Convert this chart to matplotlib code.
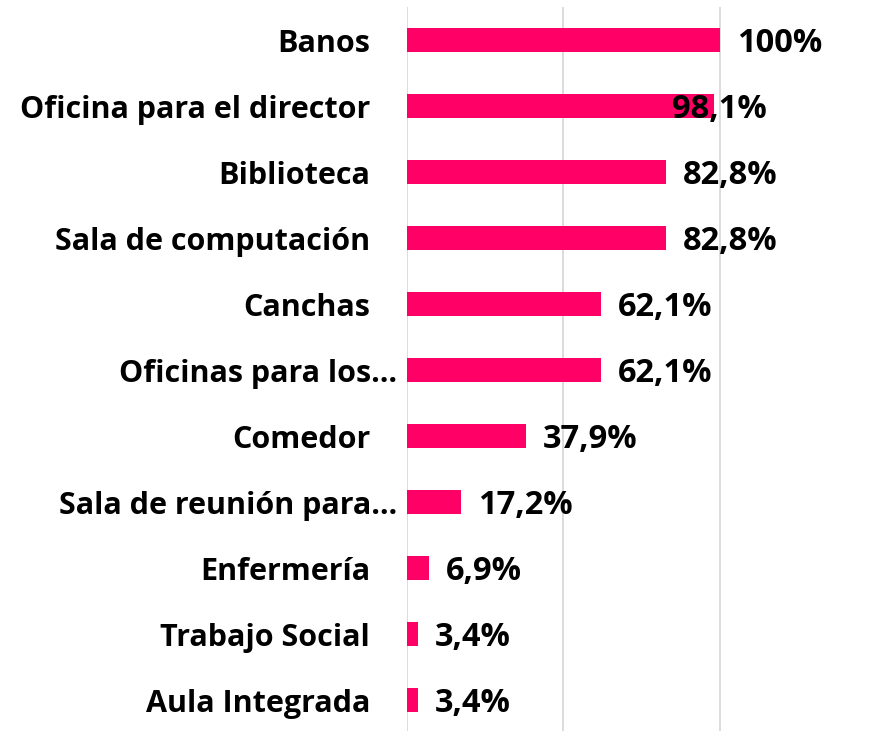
import matplotlib.pyplot as plt
from matplotlib.transforms import offset_copy

# Datos (de arriba hacia abajo)
categorias = ["Banos", "Oficina para el director", "Biblioteca", "Sala de computación",
              "Canchas", "Oficinas para los…", "Comedor", "Sala de reunión para…",
              "Enfermería", "Trabajo Social", "Aula Integrada"]
porcentajes = [100, 98.1, 82.8, 82.8, 62.1, 62.1, 37.9, 17.2, 6.9, 3.4, 3.4]
etiquetas = ["100%", "98,1%", "82,8%", "82,8%", "62,1%", "62,1%",
             "37,9%", "17,2%", "6,9%", "3,4%", "3,4%"]

plt.rcParams['font.family'] = ['Open Sans', 'DejaVu Sans']
plt.rcParams['font.weight'] = 'bold'

fig = plt.figure(figsize=(8.69, 7.31), dpi=100)
ax = fig.add_axes([407 / 869, -2 / 731, 438 / 869, 726 / 731])

y = list(range(len(categorias)))
ax.barh(y, porcentajes, height=0.35, color='#FF0066', zorder=3)

ax.set_xlim(0, 140)
ax.set_ylim(len(categorias) - 0.5, -0.5)
ax.set_xticks([0, 50, 100])
ax.xaxis.grid(True, color='#D9D9D9', linewidth=1.3, zorder=0)
ax.tick_params(axis='both', length=0, labelbottom=False, labelleft=False)
for s in ax.spines.values():
    s.set_visible(False)

# nombres de categorias a la izquierda
for i, nombre in enumerate(categorias):
    pad = -10 if nombre.endswith('…') else -37
    tr = offset_copy(ax.get_yaxis_transform(), fig=fig, x=pad, y=-4, units='dots')
    ax.text(0, i, nombre, transform=tr, ha='right', va='center',
            fontsize=22, fontweight='bold', color='black')

# etiquetas de valor (la de 98,1% queda sobre la barra, como en el original)
desplazamiento = {"Oficina para el director": -42}
for i, (v, et) in enumerate(zip(porcentajes, etiquetas)):
    dx = desplazamiento.get(categorias[i], 17)
    tr = offset_copy(ax.transData, fig=fig, x=dx, y=-3, units='dots')
    ax.text(v, i, et, transform=tr, ha='left', va='center',
            fontsize=23.5, fontweight='bold', color='black', zorder=4)

fig.savefig('out.png', dpi=100)
